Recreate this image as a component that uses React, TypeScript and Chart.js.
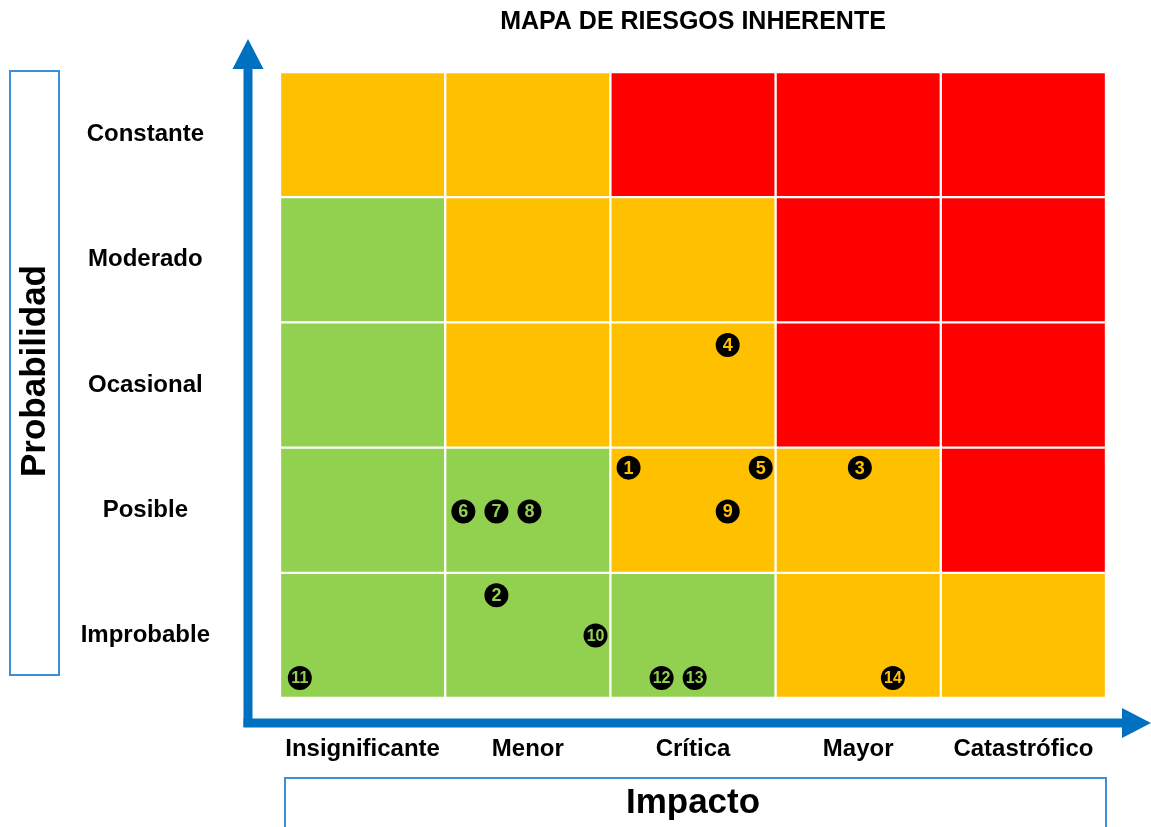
import React, { useEffect, useRef } from 'react';
import { Chart, registerables } from 'chart.js';

Chart.register(...registerables);

const titleText = 'MAPA DE RIESGOS INHERENTE';
const impactLabels = ['Insignificante', 'Menor', 'Crítica', 'Mayor', 'Catastrófico'];
const probLabels = ['Constante', 'Moderado', 'Ocasional', 'Posible', 'Improbable'];
const xAxisTitle = 'Impacto';
const yAxisTitle = 'Probabilidad';

// Cell colour codes, rows listed top (Constante) to bottom (Improbable)
const rowConstante = ['O', 'O', 'R', 'R', 'R'];
const rowModerado = ['G', 'O', 'O', 'R', 'R'];
const rowOcasional = ['G', 'O', 'O', 'R', 'R'];
const rowPosible = ['G', 'G', 'O', 'O', 'R'];
const rowImprobable = ['G', 'G', 'G', 'O', 'O'];
const rowsTopDown = [rowConstante, rowModerado, rowOcasional, rowPosible, rowImprobable];

const palette: Record<string, string> = { G: '#92D050', O: '#FFC000', R: '#FF0000' };

// Risks: id, impact position (0..5), probability position (0..5)
const riskIds = [1, 2, 3, 4, 5, 6, 7, 8, 9, 10, 11, 12, 13, 14];
const riskImpact = [2.11, 1.31, 3.51, 2.71, 2.91, 1.11, 1.31, 1.51, 2.71, 1.91, 0.12, 2.31, 2.51, 3.71];
const riskProb = [1.84, 0.82, 1.84, 2.82, 1.84, 1.49, 1.49, 1.49, 1.49, 0.5, 0.16, 0.16, 0.16, 0.16];

const BLUE = '#0070C0';
const BOX_BLUE = '#3A8EDB';
const FONT = '"Liberation Sans", Arial, sans-serif';

function cellColorAt(x: number, y: number): string {
  const col = Math.min(4, Math.max(0, Math.floor(x)));
  const level = Math.min(4, Math.max(0, Math.floor(y)));
  return palette[rowsTopDown[4 - level][col]];
}

const decorPlugin = {
  id: 'decor',
  beforeDraw(chart: any) {
    const { ctx, chartArea } = chart;
    const { left, right, top, bottom } = chartArea;
    ctx.save();
    // boxes
    ctx.strokeStyle = BOX_BLUE;
    ctx.lineWidth = 2;
    ctx.strokeRect(10, top - 1, 49, 604);
    ctx.strokeRect(left + 5, bottom + 80, right - left - 5, 60);
    // y arrow
    ctx.fillStyle = BLUE;
    const ax = left - 32;
    const ay = bottom + 25;
    ctx.fillRect(ax - 4.5, top - 4, 9, ay - top + 8);
    ctx.beginPath();
    ctx.moveTo(ax, top - 33);
    ctx.lineTo(ax + 15.5, top - 3);
    ctx.lineTo(ax - 15.5, top - 3);
    ctx.closePath();
    ctx.fill();
    // x arrow
    ctx.fillRect(ax - 4.5, ay - 4.5, 1123 - ax + 4.5, 9);
    ctx.beginPath();
    ctx.moveTo(1151, ay);
    ctx.lineTo(1122, ay - 15);
    ctx.lineTo(1122, ay + 15);
    ctx.closePath();
    ctx.fill();
    // axis titles
    ctx.fillStyle = '#000';
    ctx.textAlign = 'center';
    ctx.textBaseline = 'middle';
    ctx.font = `bold 35px ${FONT}`;
    ctx.fillText(xAxisTitle, (left + right) / 2, bottom + 105);
    ctx.translate(35, 371);
    ctx.rotate(-Math.PI / 2);
    ctx.font = `bold 35px ${FONT}`;
    ctx.fillText(yAxisTitle, 0, 0);
    ctx.restore();
  },
  afterDatasetsDraw(chart: any) {
    const { ctx } = chart;
    const idx = chart.data.datasets.findIndex((d: any) => d.type === 'scatter');
    if (idx < 0) return;
    const meta = chart.getDatasetMeta(idx);
    ctx.save();
    ctx.textAlign = 'center';
    ctx.textBaseline = 'middle';
    meta.data.forEach((pt: any, i: number) => {
      const label = String(riskIds[i]);
      ctx.fillStyle = cellColorAt(riskImpact[i], riskProb[i]);
      ctx.font = `bold ${label.length > 1 ? 16 : 18}px ${FONT}`;
      ctx.fillText(label, pt.x, pt.y + 1, 19);
    });
    ctx.restore();
  },
};

export default function App() {
  const canvasRef = useRef<HTMLCanvasElement | null>(null);

  useEffect(() => {
    if (!canvasRef.current) return;
    const cellDatasets = rowsTopDown
      .slice()
      .reverse()
      .map((row, level) => ({
        type: 'bar' as const,
        label: probLabels[4 - level],
        data: impactLabels.map(() => [level, level + 1]),
        backgroundColor: row.map((c) => palette[c]),
        borderColor: '#FFFFFF',
        borderWidth: 1.5,
        borderSkipped: false,
        barPercentage: 1,
        categoryPercentage: 1,
        grouped: false,
        order: 1,
        xAxisID: 'x',
        yAxisID: 'y',
      }));

    const scatterDataset = {
      type: 'scatter' as const,
      label: 'Riesgos',
      data: riskIds.map((_, i) => ({ x: riskImpact[i], y: riskProb[i] })),
      backgroundColor: '#000000',
      borderWidth: 0,
      pointRadius: 12,
      pointHoverRadius: 12,
      order: 0,
      xAxisID: 'xP',
      yAxisID: 'y',
    };

    const chart = new Chart(canvasRef.current, {
      type: 'bar',
      data: {
        labels: impactLabels,
        datasets: [...cellDatasets, scatterDataset] as any,
      },
      plugins: [decorPlugin],
      options: {
        animation: false,
        responsive: true,
        maintainAspectRatio: false,
        events: [],
        layout: { padding: { left: 0, right: 45, top: 0, bottom: 0 } },
        plugins: {
          legend: { display: false },
          tooltip: { enabled: false },
          title: {
            display: true,
            text: titleText,
            fullSize: false,
            color: '#000',
            font: { family: FONT, size: 25, weight: 'bold' },
            padding: { top: 7, bottom: 35 },
          },
        },
        scales: {
          x: {
            type: 'category',
            position: 'bottom',
            offset: true,
            grid: { display: false, drawTicks: false },
            border: { display: false },
            ticks: {
              color: '#000',
              font: { family: FONT, size: 24, weight: 'bold' },
              padding: 37,
              maxRotation: 0,
              autoSkip: false,
            },
            afterFit: (s: any) => {
              s.height = 129;
              s.paddingLeft = 0;
              s.paddingRight = 0;
            },
          },
          xP: {
            type: 'linear',
            display: false,
            offset: false,
            min: 0,
            max: 5,
          },
          y: {
            type: 'linear',
            display: false,
            offset: false,
            min: 0,
            max: 5,
          },
          yCat: {
            type: 'category',
            position: 'left',
            labels: probLabels,
            offset: true,
            grid: { display: false, drawTicks: false },
            border: { display: false },
            ticks: {
              color: '#000',
              font: { family: FONT, size: 24, weight: 'bold' },
              crossAlign: 'center',
              padding: 70,
              autoSkip: false,
            },
            afterFit: (s: any) => {
              s.width = 280;
              s.paddingTop = 0;
              s.paddingBottom = 0;
            },
          },
        },
      } as any,
    });
    return () => chart.destroy();
  }, []);

  return (
    <div style={{ position: 'absolute', left: 0, top: 0, width: 1151, height: 827, background: '#fff' }}>
      <canvas ref={canvasRef} />
    </div>
  );
}
